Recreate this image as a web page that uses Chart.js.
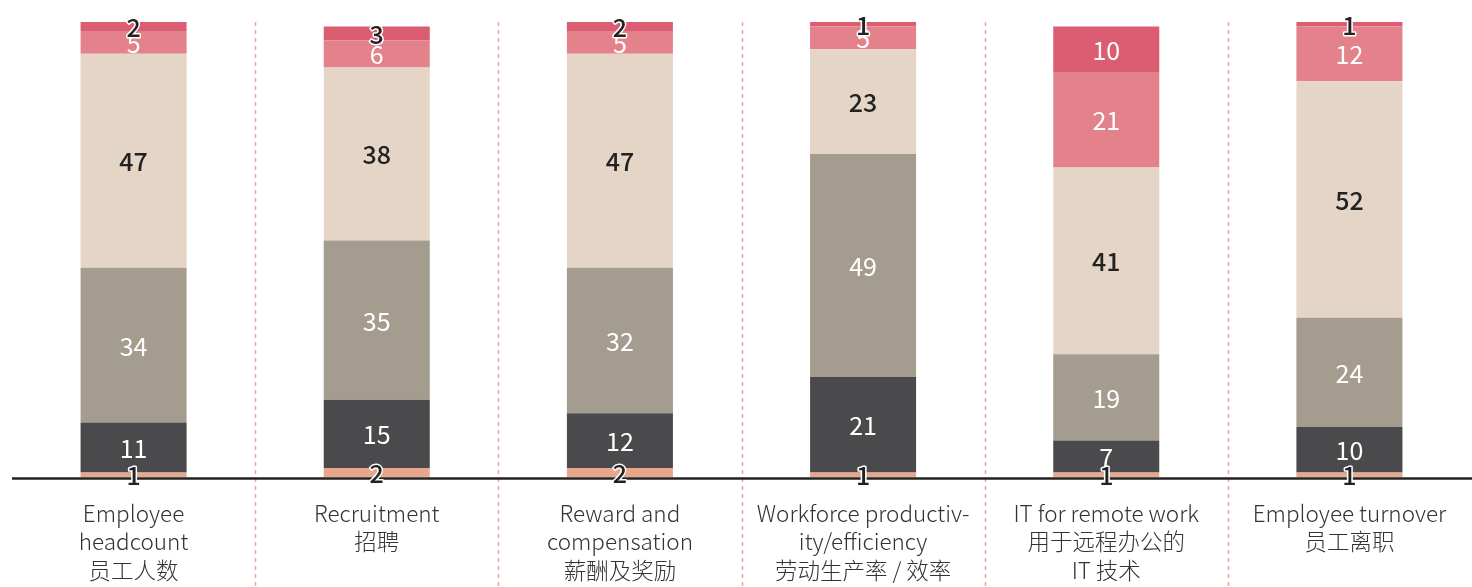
<!DOCTYPE html>
<html>
<head>
<meta charset="utf-8">
<script src="https://cdn.jsdelivr.net/npm/chart.js@4.4.1/dist/chart.umd.min.js"></script>
<style>
html,body{margin:0;padding:0;background:#fff;}
#wrap{width:1472px;height:587px;position:relative;}
</style>
</head>
<body>
<div id="wrap"><canvas id="c" width="1472" height="587"></canvas></div>
<script>
const categories = [
  ["Employee", "headcount", "员工人数"],
  ["Recruitment", "招聘"],
  ["Reward and", "compensation", "薪酬及奖励"],
  ["Workforce productiv-", "ity/efficiency", "劳动生产率 / 效率"],
  ["IT for remote work", "用于远程办公的", "IT 技术"],
  ["Employee turnover", "员工离职"]
];
// stacked from bottom to top
const series1 = [1, 2, 2, 1, 1, 1];
const series2 = [11, 15, 12, 21, 7, 10];
const series3 = [34, 35, 32, 49, 19, 24];
const series4 = [47, 38, 47, 23, 41, 52];
const series5 = [5, 6, 5, 5, 21, 12];
const series6 = [2, 3, 2, 1, 10, 1];

const colors = ["#e8a68b", "#4a4a4c", "#a39c8f", "#e4d5c7", "#e3828a", "#dc5c71"];
const allSeries = [series1, series2, series3, series4, series5, series6];

const labelPlugin = {
  id: 'segLabels',
  afterDatasetsDraw(chart) {
    const ctx = chart.ctx;
    ctx.save();
    ctx.textAlign = 'center';
    ctx.textBaseline = 'middle';
    chart.data.datasets.forEach((ds, di) => {
      const meta = chart.getDatasetMeta(di);
      meta.data.forEach((bar, i) => {
        const v = ds.data[i];
        const y = (bar.y + bar.base) / 2;
        const x = bar.x;
        const small = v <= 3;
        const dark = small || di === 3;
        ctx.font = (dark ? '500' : '400') + ' 25px "Noto Sans CJK SC", "Noto Sans", sans-serif';
        if (small) {
          ctx.lineWidth = 3;
          ctx.strokeStyle = '#fff';
          ctx.lineJoin = 'round';
          ctx.strokeText(String(v), x, y + 1);
        }
        ctx.fillStyle = dark ? '#222' : '#fff';
        ctx.fillText(String(v), x, y + 1);
      });
    });
    ctx.restore();
  }
};

const sepPlugin = {
  id: 'separators',
  beforeDatasetsDraw(chart) {
    const ctx = chart.ctx;
    const xs = chart.scales.x;
    const n = categories.length;
    ctx.save();
    ctx.strokeStyle = '#eba3b1';
    ctx.lineWidth = 1.5;
    ctx.setLineDash([4, 4]);
    for (let i = 0; i < n - 1; i++) {
      const x = Math.round((xs.getPixelForValue(i) + xs.getPixelForValue(i + 1)) / 2) + 0.5;
      ctx.beginPath();
      ctx.moveTo(x, chart.chartArea.top);
      ctx.lineTo(x, chart.height);
      ctx.stroke();
    }
    ctx.restore();
  },
  afterDatasetsDraw(chart) {
    const ctx = chart.ctx;
    const a = chart.chartArea;
    ctx.save();
    ctx.strokeStyle = '#222';
    ctx.lineWidth = 2.5;
    ctx.beginPath();
    ctx.moveTo(a.left, a.bottom + 1.5);
    ctx.lineTo(chart.width, a.bottom + 1.5);
    ctx.stroke();
    ctx.restore();
  }
};

new Chart(document.getElementById('c'), {
  type: 'bar',
  data: {
    labels: categories,
    datasets: allSeries.map((s, i) => ({
      label: 'S' + (i + 1),
      data: s,
      backgroundColor: colors[i],
      borderWidth: 0,
      categoryPercentage: 1,
      barPercentage: 0.436
    }))
  },
  options: {
    responsive: false,
    animation: false,
    layout: { padding: { left: 12, right: 1, top: 22, bottom: 0 } },
    plugins: { legend: { display: false }, tooltip: { enabled: false } },
    scales: {
      x: {
        stacked: true,
        grid: { display: false, drawTicks: false },
        border: { display: false },
        ticks: {
          color: '#333',
          padding: 22,
          maxRotation: 0,
          autoSkip: false,
          font: { family: '"Noto Sans CJK SC", "Noto Sans", sans-serif', size: 22.5, weight: '300', lineHeight: 1.27 }
        },
        afterFit(scale) { scale.height = 110; }
      },
      y: {
        stacked: true,
        display: false,
        min: 0,
        max: 100
      }
    }
  },
  plugins: [sepPlugin, labelPlugin]
});
</script>
</body>
</html>
